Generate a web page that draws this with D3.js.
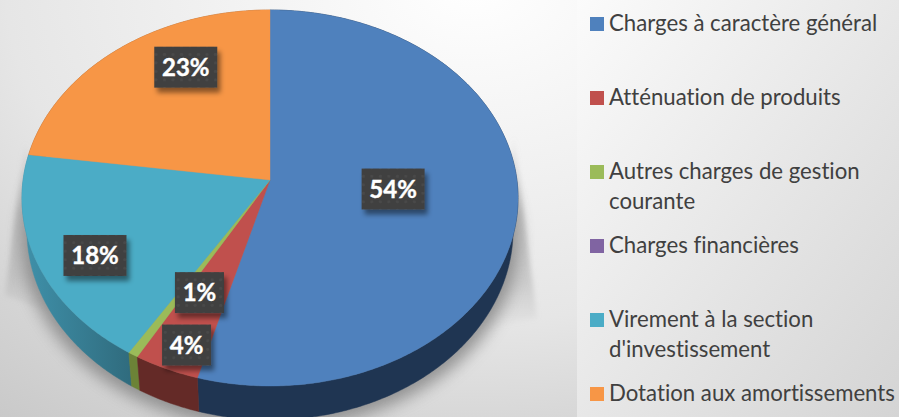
<!DOCTYPE html>
<html>
<head>
<meta charset="utf-8">
<script src="https://cdn.jsdelivr.net/npm/d3@7"></script>
<style>
html,body{margin:0;padding:0;background:#eee;overflow:hidden}
svg{display:block}
text{font-variant-ligatures:none;font-feature-settings:"liga" 0}
</style>
</head>
<body>
<svg id="chart" width="899" height="417"></svg>
<script>
const categories = ["Charges à caractère général","Atténuation de produits","Autres charges de gestion courante","Charges financières","Virement à la section d'investissement","Dotation aux amortissements"];
const legendLines = [["Charges à caractère général"],["Atténuation de produits"],["Autres charges de gestion","courante"],["Charges financières"],["Virement à la section","d'investissement"],["Dotation aux amortissements"]];
const values = [54.3,3.9,0.6,0,18.4,22.8];
const topColors = ["#4f81bd","#c0504d","#9bbb59","#8064a2","#4bacc6","#f79646"];
const sideColors = ["#1f3552","#642a27","#6c8337","#4f3e66","url(#tealSide)","#a3622d"];
const labelNudge = [[0,-3.6],[-34,75],[-5,29],[0,0],[-61,35],[-6,-45]];

const W = 899, H = 417;
const svg = d3.select("#chart");
const defs = svg.append("defs");

// backgrounds
const bgL = defs.append("radialGradient").attr("id","bgL").attr("cx",.82).attr("cy",-.04).attr("r",1.35);
[[0,"#ffffff"],[.6,"#e6e6e6"],[.78,"#d7d7d7"],[1,"#c8c8c8"]].forEach(s=>bgL.append("stop").attr("offset",s[0]).attr("stop-color",s[1]));
const bgR = defs.append("linearGradient").attr("id","bgR").attr("x1",0).attr("y1",0).attr("x2",1).attr("y2",1);
[[0,"#fbfbfb"],[1,"#d4d4d4"]].forEach(s=>bgR.append("stop").attr("offset",s[0]).attr("stop-color",s[1]));
const teal = defs.append("linearGradient").attr("id","tealSide").attr("gradientUnits","userSpaceOnUse").attr("x1",25).attr("y1",0).attr("x2",135).attr("y2",0);
[[0,"#3f90a9"],[1,"#2f6a7c"]].forEach(s=>teal.append("stop").attr("offset",s[0]).attr("stop-color",s[1]));
const fade = defs.append("linearGradient").attr("id","wedgeFade").attr("x1",0).attr("y1",0).attr("x2",0).attr("y2",1);
[[0,"#a8a8a8",0],[.4,"#a8a8a8",.6],[.75,"#a8a8a8",.45],[1,"#a8a8a8",0]].forEach(s=>fade.append("stop").attr("offset",s[0]).attr("stop-color",s[1]).attr("stop-opacity",s[2]));

const blur = (id,sd)=>defs.append("filter").attr("id",id).attr("x","-20%").attr("y","-20%").attr("width","140%").attr("height","140%")
  .append("feGaussianBlur").attr("stdDeviation",sd);
blur("shadowBlur",8); blur("wedgeBlur",2.5);
const ls = defs.append("filter").attr("id","labelShadow").attr("x","-30%").attr("y","-30%").attr("width","170%").attr("height","180%");
ls.append("feDropShadow").attr("dx",3).attr("dy",5).attr("stdDeviation",2.5).attr("flood-color","#000").attr("flood-opacity",.45);
const pat = defs.append("pattern").attr("id","dots").attr("patternUnits","userSpaceOnUse").attr("width",8.5).attr("height",8.5);
pat.append("rect").attr("width",8.5).attr("height",8.5).attr("fill","#3f3f3f");
pat.append("circle").attr("cx",4.2).attr("cy",4.2).attr("r",1.7).attr("fill","#484848");

svg.append("rect").attr("width",577).attr("height",H).attr("fill","url(#bgL)");
svg.append("rect").attr("x",577).attr("width",W-577).attr("height",H).attr("fill","url(#bgR)");

// perspective disc: unit-circle coordinates projected on to the page
const apex = {x:270, y:180};
const persp = -0.0957;
const xScale = d3.scaleLinear().domain([-1,1]).range([apex.x-246.9, apex.x+246.9]);
const yScale = d3.scaleLinear().domain([-1,1]).range([apex.y-186.3, apex.y+186.3]);
function project(theta, f, base){
  const u = f*Math.sin(theta), v = -f*Math.cos(theta), w = 1+persp*v;
  const px = u/w, py = v/w;
  const x = xScale(px), y = yScale(py);
  if(!base) return [x,y];
  return [apex.x+(x-apex.x)*0.98, apex.y+31.8+(y-apex.y)*1.01];
}
const arcSamples = (a0,a1) => {
  const n = Math.max(2, Math.ceil((a1-a0)/0.01));
  return d3.range(n+1).map(i=>a0+(a1-a0)*i/n);
};
const line = d3.line();

const pieData = d3.pie().sort(null).value(d=>d)(values).map((d,i)=>({...d,i}));

// shadows beneath the solid
const shadow = svg.append("g");
const fullTurn = arcSamples(0,2*Math.PI);
shadow.append("path").attr("d","M25,140L5,295L70,320Z").attr("fill","url(#wedgeFade)").attr("filter","url(#wedgeBlur)");
shadow.append("path").attr("d","M514,135L537,318L480,330Z").attr("fill","url(#wedgeFade)").attr("filter","url(#wedgeBlur)");
shadow.append("path")
  .attr("d", line(fullTurn.map(t=>{const p=project(t,1,true);return [apex.x+(p[0]-apex.x)*1.02, p[1]+9];}))+"Z")
  .attr("fill","#858585").attr("opacity",.85).attr("filter","url(#shadowBlur)");

// side walls, far slices first
const sideOrder = pieData.slice().sort((a,b)=>Math.abs(Math.PI-(a.startAngle+a.endAngle)/2)<Math.abs(Math.PI-(b.startAngle+b.endAngle)/2)?1:-1);
svg.append("g").selectAll("path").data(sideOrder.filter(d=>d.value>0)).join("path")
  .attr("d",d=>{
    const s = arcSamples(d.startAngle,d.endAngle);
    return line(s.map(t=>project(t,1,false)).concat(s.slice().reverse().map(t=>project(t,1,true))))+"Z";
  })
  .attr("fill",d=>sideColors[d.i]).attr("stroke",d=>sideColors[d.i]).attr("stroke-width",.5);

// top faces
svg.append("g").selectAll("path").data(pieData.filter(d=>d.value>0)).join("path")
  .attr("d",d=>line([[apex.x,apex.y]].concat(arcSamples(d.startAngle,d.endAngle).map(t=>project(t,1,false))))+"Z")
  .attr("fill",d=>topColors[d.i]).attr("stroke",d=>topColors[d.i]).attr("stroke-width",.4);

// data labels
const labelFont = "Lato, Carlito, sans-serif";
const labels = svg.append("g").selectAll("g").data(pieData.filter(d=>Math.round(d.value)>0)).join("g")
  .attr("transform",d=>{
    const p = project((d.startAngle+d.endAngle)/2,.5,false);
    return `translate(${p[0]+labelNudge[d.i][0]},${p[1]+labelNudge[d.i][1]})`;
  });
labels.append("rect")
  .attr("x",d=>Math.round(d.value)<10?-24.5:-31.5).attr("y",-20.5)
  .attr("width",d=>Math.round(d.value)<10?49:63).attr("height",41)
  .attr("fill","url(#dots)").attr("filter","url(#labelShadow)");
labels.append("text").attr("text-anchor","middle").attr("y",8.5)
  .attr("font-family",labelFont).attr("font-weight",700).attr("font-size",24).attr("fill","#fff")
  .attr("stroke","#fff").attr("stroke-width",.4)
  .text(d=>Math.round(d.value)+"%");

// legend
const legendY = d3.scalePoint().domain(categories).range([24,394]);
const legend = svg.append("g").selectAll("g").data(categories).join("g")
  .attr("transform",d=>`translate(590,${legendY(d)})`);
legend.append("rect").attr("y",-7).attr("width",14).attr("height",14).attr("fill",(d,i)=>topColors[i]);
legend.append("text").attr("font-family",labelFont).attr("font-size",22.2).attr("fill","#404040")
  .selectAll("tspan").data((d,i)=>legendLines[i]).join("tspan")
  .attr("x",19).attr("y",(d,i)=>7+i*29.5).text(d=>d);
</script>
</body>
</html>
